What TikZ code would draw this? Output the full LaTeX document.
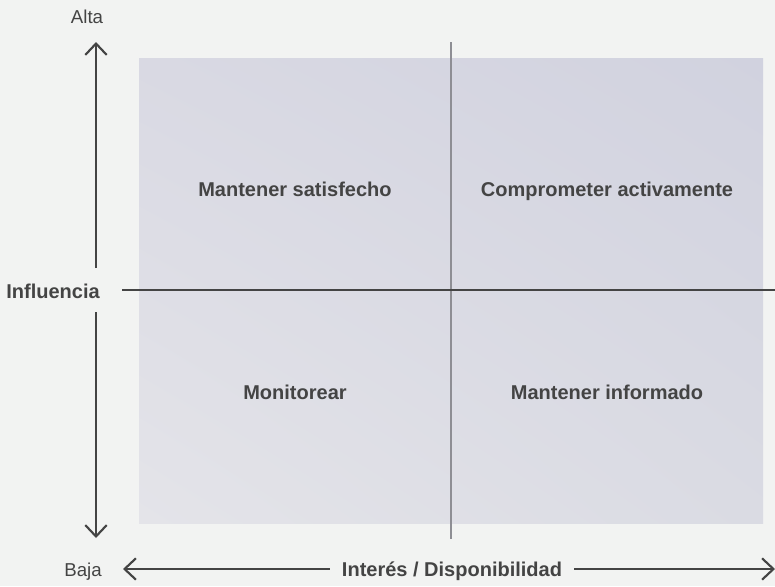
\documentclass[tikz,border=0pt]{standalone}
\usepackage{fontspec}
\setmainfont{Liberation Sans}
\usetikzlibrary{arrows.meta,shadings}
\definecolor{bgcol}{HTML}{F2F3F2}
\definecolor{inkcol}{HTML}{444444}
\definecolor{midcol}{HTML}{8E8E94}
\definecolor{quadUL}{HTML}{D9D9E3}
\definecolor{quadUR}{HTML}{D1D2DF}
\definecolor{quadLL}{HTML}{E4E4E9}
\definecolor{quadLR}{HTML}{DADBE3}
\begin{document}
\begin{tikzpicture}[x=0.75pt,y=-0.75pt,
	quad/.style={font=\bfseries\fontsize{15}{18}\selectfont, text=inkcol, text height=1.6ex, text depth=0.45ex},
	axislabel/.style={font=\fontsize{14}{16}\selectfont, text=inkcol},
	axisarrow/.style={draw=inkcol, line width=1.6pt, -{Straight Barb[length=8.5pt,width=16pt]}}]
		\fill[bgcol] (0,0) rectangle (775,586);
		\useasboundingbox (0,0) rectangle (775,586);
		% quadrant area
		\shade[upper left=quadUL, upper right=quadUR, lower left=quadLL, lower right=quadLR]
			(139,58) rectangle (763,523);
		
		\node[quad] (sat) at (295,192) {Mantener satisfecho};
		\node[quad] (comp) at (607,192) {Comprometer activamente};
		\node[quad] (mon) at (295,395) {Monitorear};
		\node[quad] (info) at (607,395) {Mantener informado};
		
		\node[quad] (infl) at (53,294) {Influencia};
		\node[quad, inner xsep=9pt] (inter) at (452,572) {Interés / Disponibilidad};
		\node[axislabel] (alta) at (87,17) {Alta};
		\node[axislabel] (baja) at (83,572) {Baja};
		
		\coordinate (vtop) at (96,42);
		\coordinate (vbot) at (96,538);
		\coordinate (vgapA) at (96,268);
		\coordinate (vgapB) at (96,312);
		\coordinate (hleft) at (123,569);
		\coordinate (hright) at (775,569);
		
		\coordinate (divT) at (451,42);
		\coordinate (divB) at (451,539);
		\coordinate (divL) at (122,290);
		\coordinate (divR) at (775,290);
		
		\draw[midcol, line width=1.1pt] (divT) -- (divB);
		\draw[inkcol, line width=0.9pt] (divL) -- (divR);
		
		\draw[axisarrow] (vgapA) -- (vtop);
		\draw[axisarrow] (vgapB) -- (vbot);
		\draw[axisarrow] (inter.west |- hleft) -- (hleft);
		\draw[axisarrow] (inter.east |- hright) -- (hright);
\end{tikzpicture}
\end{document}
